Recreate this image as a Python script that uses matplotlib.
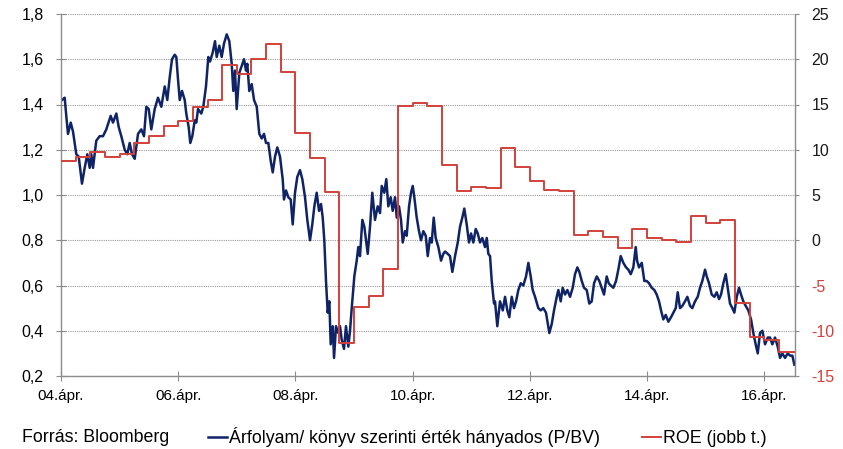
import numpy as np
import matplotlib.pyplot as plt
from matplotlib.ticker import FixedLocator, FuncFormatter

plt.rcParams['font.family'] = ['Liberation Sans', 'DejaVu Sans']
plt.rcParams['axes.unicode_minus'] = False

# Árfolyam / könyv szerinti érték (P/BV), évtizedes évben megadott időpontok
pbv_ev = [
    2004.267, 2004.313, 2004.340, 2004.369, 2004.416, 2004.455, 2004.472, 2004.511,
    2004.552, 2004.608, 2004.654, 2004.699, 2004.740, 2004.767, 2004.796, 2004.852,
    2004.910, 2004.967, 2005.023, 2005.098, 2005.137, 2005.194, 2005.235, 2005.279,
    2005.337, 2005.381, 2005.422, 2005.462, 2005.508, 2005.564, 2005.620, 2005.666,
    2005.706, 2005.747, 2005.791, 2005.849, 2005.905, 2005.962, 2006.020, 2006.064,
    2006.105, 2006.144, 2006.190, 2006.218, 2006.247, 2006.276, 2006.315, 2006.361,
    2006.388, 2006.429, 2006.456, 2006.491, 2006.532, 2006.559, 2006.588, 2006.644,
    2006.678, 2006.724, 2006.764, 2006.793, 2006.839, 2006.878, 2006.907, 2006.951,
    2006.992, 2007.032, 2007.078, 2007.122, 2007.163, 2007.190, 2007.219, 2007.248,
    2007.293, 2007.334, 2007.373, 2007.407, 2007.429, 2007.463, 2007.504, 2007.544,
    2007.590, 2007.634, 2007.675, 2007.714, 2007.748, 2007.788, 2007.829, 2007.863,
    2007.902, 2007.941, 2007.987, 2008.033, 2008.055, 2008.090, 2008.129, 2008.170,
    2008.204, 2008.243, 2008.282, 2008.328, 2008.368, 2008.414, 2008.453, 2008.499,
    2008.538, 2008.573, 2008.613, 2008.653, 2008.687, 2008.716, 2008.743, 2008.772,
    2008.801, 2008.829, 2008.852, 2008.887, 2008.909, 2008.943, 2008.982, 2009.011,
    2009.040, 2009.079, 2009.113, 2009.153, 2009.182, 2009.211, 2009.255, 2009.296,
    2009.323, 2009.352, 2009.392, 2009.426, 2009.450, 2009.484, 2009.523, 2009.562,
    2009.608, 2009.654, 2009.694, 2009.723, 2009.767, 2009.801, 2009.835, 2009.876,
    2009.910, 2009.950, 2009.979, 2010.018, 2010.052, 2010.081, 2010.120, 2010.149,
    2010.189, 2010.223, 2010.252, 2010.279, 2010.320, 2010.359, 2010.393, 2010.433,
    2010.474, 2010.508, 2010.547, 2010.576, 2010.610, 2010.644, 2010.689, 2010.735,
    2010.774, 2010.803, 2010.849, 2010.888, 2010.928, 2010.974, 2011.020, 2011.059,
    2011.098, 2011.132, 2011.173, 2011.212, 2011.247, 2011.286, 2011.327, 2011.361,
    2011.400, 2011.439, 2011.485, 2011.515, 2011.542, 2011.571, 2011.600, 2011.639,
    2011.656, 2011.695, 2011.741, 2011.788, 2011.827, 2011.866, 2011.900, 2011.941,
    2011.980, 2012.015, 2012.054, 2012.095, 2012.139, 2012.185, 2012.225, 2012.265,
    2012.299, 2012.339, 2012.395, 2012.436, 2012.480, 2012.526, 2012.583, 2012.624,
    2012.663, 2012.709, 2012.737, 2012.777, 2012.811, 2012.851, 2012.890, 2012.936,
    2012.982, 2013.021, 2013.061, 2013.095, 2013.136, 2013.175, 2013.221, 2013.265,
    2013.306, 2013.346, 2013.392, 2013.436, 2013.477, 2013.516, 2013.562, 2013.596,
    2013.631, 2013.675, 2013.721, 2013.760, 2013.801, 2013.846, 2013.892, 2013.931,
    2013.972, 2014.016, 2014.057, 2014.080, 2014.113, 2014.160, 2014.204, 2014.245,
    2014.284, 2014.330, 2014.375, 2014.415, 2014.455, 2014.489, 2014.528, 2014.569,
    2014.614, 2014.660, 2014.699, 2014.740, 2014.774, 2014.813, 2014.853, 2014.898,
    2014.938, 2014.984, 2015.023, 2015.069, 2015.115, 2015.154, 2015.194, 2015.240,
    2015.269, 2015.308, 2015.354, 2015.399, 2015.439, 2015.479, 2015.513, 2015.552,
    2015.593, 2015.627, 2015.666, 2015.706, 2015.740, 2015.781, 2015.820, 2015.854,
    2015.893, 2015.934, 2015.979, 2016.025, 2016.064, 2016.104, 2016.139, 2016.178,
    2016.218, 2016.264, 2016.310, 2016.349, 2016.388, 2016.434, 2016.480, 2016.520,
    2016.559, 2016.605, 2016.651, 2016.690, 2016.730, 2016.764,
]
pbv = [
    1.42, 1.43, 1.35, 1.27, 1.32, 1.28, 1.25, 1.18,
    1.17, 1.05, 1.12, 1.18, 1.12, 1.18, 1.12, 1.24,
    1.26, 1.26, 1.29, 1.35, 1.32, 1.36, 1.30, 1.26,
    1.20, 1.18, 1.23, 1.18, 1.16, 1.27, 1.29, 1.26,
    1.39, 1.38, 1.29, 1.38, 1.43, 1.39, 1.48, 1.42,
    1.52, 1.60, 1.62, 1.61, 1.51, 1.42, 1.46, 1.42,
    1.36, 1.30, 1.23, 1.26, 1.33, 1.32, 1.38, 1.36,
    1.39, 1.48, 1.61, 1.59, 1.63, 1.68, 1.61, 1.66,
    1.61, 1.67, 1.71, 1.68, 1.58, 1.46, 1.55, 1.38,
    1.54, 1.57, 1.60, 1.55, 1.58, 1.46, 1.49, 1.42,
    1.39, 1.27, 1.25, 1.27, 1.23, 1.23, 1.15, 1.10,
    1.17, 1.21, 1.17, 1.07, 0.98, 1.02, 0.99, 0.98,
    0.87, 1.01, 1.08, 1.11, 1.07, 0.99, 0.89, 0.80,
    0.87, 0.95, 1.01, 0.93, 0.96, 0.90, 0.80, 0.62,
    0.48, 0.53, 0.34, 0.42, 0.28, 0.42, 0.39, 0.42,
    0.36, 0.32, 0.42, 0.33, 0.40, 0.50, 0.64, 0.71,
    0.77, 0.73, 0.89, 0.86, 0.81, 0.74, 0.86, 1.01,
    0.89, 0.95, 0.92, 1.04, 1.01, 1.07, 0.95, 0.99,
    0.93, 0.99, 0.90, 0.95, 0.89, 0.79, 0.84, 0.82,
    0.95, 1.01, 1.04, 0.99, 0.90, 0.84, 0.80, 0.84,
    0.82, 0.73, 0.81, 0.79, 0.90, 0.81, 0.77, 0.71,
    0.74, 0.75, 0.74, 0.73, 0.66, 0.73, 0.79, 0.86,
    0.90, 0.94, 0.87, 0.79, 0.83, 0.79, 0.85, 0.83,
    0.79, 0.81, 0.77, 0.81, 0.74, 0.73, 0.62, 0.52,
    0.53, 0.42, 0.53, 0.49, 0.55, 0.49, 0.46, 0.55,
    0.50, 0.53, 0.58, 0.61, 0.60, 0.64, 0.70, 0.64,
    0.58, 0.55, 0.50, 0.49, 0.50, 0.48, 0.39, 0.43,
    0.49, 0.55, 0.58, 0.53, 0.59, 0.56, 0.58, 0.55,
    0.59, 0.65, 0.68, 0.66, 0.62, 0.59, 0.58, 0.52,
    0.53, 0.61, 0.64, 0.62, 0.59, 0.56, 0.64, 0.61,
    0.60, 0.59, 0.62, 0.67, 0.73, 0.70, 0.68, 0.67,
    0.65, 0.68, 0.77, 0.71, 0.68, 0.70, 0.62, 0.62,
    0.61, 0.59, 0.58, 0.56, 0.53, 0.49, 0.45, 0.47,
    0.44, 0.46, 0.48, 0.50, 0.57, 0.50, 0.51, 0.53,
    0.55, 0.51, 0.50, 0.53, 0.55, 0.59, 0.62, 0.67,
    0.64, 0.61, 0.56, 0.55, 0.57, 0.54, 0.56, 0.61,
    0.65, 0.59, 0.52, 0.50, 0.48, 0.55, 0.59, 0.56,
    0.53, 0.51, 0.49, 0.45, 0.39, 0.34, 0.30, 0.39,
    0.40, 0.34, 0.37, 0.37, 0.34, 0.37, 0.33, 0.28,
    0.30, 0.28, 0.30, 0.29, 0.29, 0.25,
]

# ROE (%), negyedéves, a negyedév elejétől érvényes
roe = [
    8.8, 9.2, 9.7, 9.2, 9.5, 10.7, 11.5, 12.6, 13.2, 14.7,
    15.5, 19.4, 18.4, 20.0, 21.7, 18.6, 11.9, 9.1, 5.3, -11.3,
    -7.4, -6.2, -3.2, 14.8, 15.2, 14.8, 8.3, 5.4, 5.9, 5.8,
    10.2, 8.1, 6.6, 5.5, 5.4, 0.6, 1.0, 0.4, -0.9, 1.2,
    0.2, 0.0, -0.2, 2.7, 1.9, 2.2, -6.9, -10.7, -11.0, -12.3,
]
roe_ev = 2004.25 + 0.25 * np.arange(len(roe))
ev_vege = 2016.775

xtick_ev = [2004.25, 2006.25, 2008.25, 2010.25, 2012.25, 2014.25, 2016.25]
xtick_felirat = ['04.ápr.', '06.ápr.', '08.ápr.', '10.ápr.', '12.ápr.', '14.ápr.', '16.ápr.']
bal_tickek = [0.2, 0.4, 0.6, 0.8, 1.0, 1.2, 1.4, 1.6, 1.8]
jobb_tickek = [-15, -10, -5, 0, 5, 10, 15, 20, 25]

kek = '#0f2467'
piros = '#d2413b'
szurke = '#8c8c8c'

fig = plt.figure(figsize=(8.43, 4.49), dpi=100)
ax = fig.add_axes([61 / 843, 1 - 376 / 449, 734 / 843, 362 / 449])
ax2 = ax.twinx()

l1, = ax.plot(pbv_ev, pbv, color=kek, lw=1.8, solid_joinstyle='round',
              label='Árfolyam/ könyv szerinti érték hányados (P/BV)')
l2, = ax2.step(np.append(roe_ev, ev_vege), np.append(roe, roe[-1]), where='post',
               color=piros, lw=1.4, label='ROE (jobb t.)')

ax.set_xlim(2004.25, ev_vege)
ax.set_ylim(0.2, 1.8)
ax2.set_ylim(-15, 25)

ax.yaxis.set_major_locator(FixedLocator(bal_tickek))
ax.yaxis.set_major_formatter(FuncFormatter(lambda v, _: f'{v:.1f}'.replace('.', ',')))
ax2.yaxis.set_major_locator(FixedLocator(jobb_tickek))
ax.xaxis.set_major_locator(FixedLocator(xtick_ev))
ax.set_xticklabels(xtick_felirat, fontsize=11)

ax.yaxis.grid(True, linestyle=(0, (1, 1)), color='#9a9a9a', lw=0.8)
ax.set_axisbelow(True)

for a in (ax, ax2):
    for s in a.spines.values():
        s.set_color(szurke)
        s.set_linewidth(1.0)
    a.spines['top'].set_visible(False)
ax.spines['right'].set_visible(False)
ax2.spines['left'].set_visible(False)
ax2.spines['bottom'].set_visible(False)

ax.tick_params(axis='y', direction='inout', length=7, color=szurke, labelsize=11.5, pad=9)
ax.tick_params(axis='x', direction='inout', length=7, color=szurke, pad=6)
ax2.tick_params(axis='y', direction='out', length=3, color=szurke, labelsize=11.5, pad=9)

for lbl, v in zip(ax2.get_yticklabels(), jobb_tickek):
    lbl.set_color(piros if v < 0 else '#1a1a1a')

fig.text(22 / 843, 1 - 437 / 449, 'Forrás: Bloomberg', fontsize=12.8,
         va='center', ha='left')
fig.legend(handles=[l1, l2], loc='center left', bbox_to_anchor=(208 / 843, 1 - 437 / 449),
           ncol=2, frameon=False, fontsize=12.8,
           handlelength=1.05, handletextpad=0.12, columnspacing=2.4,
           borderpad=0, borderaxespad=0)

fig.savefig('out.png', dpi=100)
